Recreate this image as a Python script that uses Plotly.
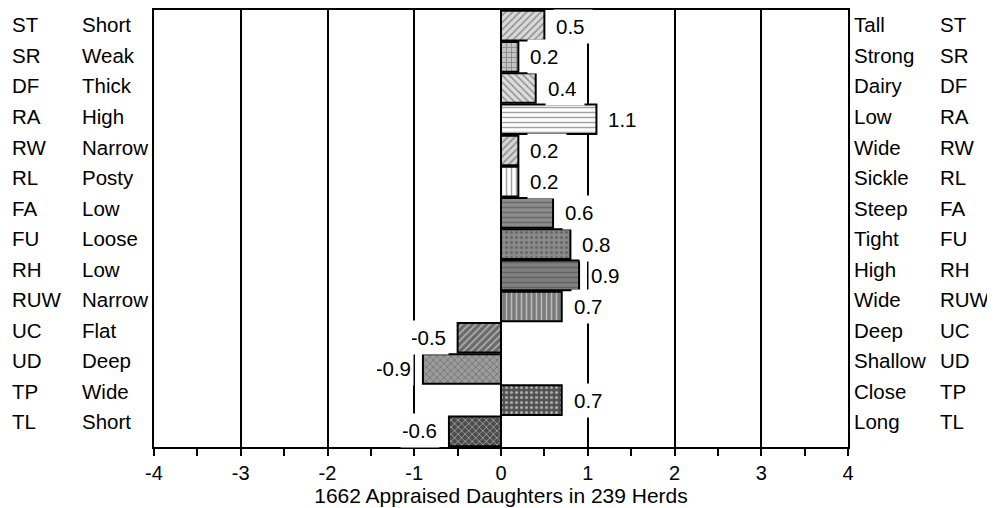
import plotly.graph_objects as go

# trait abbreviations, low-end and high-end descriptors, and mean values
traits = ["ST", "SR", "DF", "RA", "RW", "RL", "FA", "FU", "RH", "RUW", "UC", "UD", "TP", "TL"]
low_desc = ["Short", "Weak", "Thick", "High", "Narrow", "Posty", "Low", "Loose", "Low",
            "Narrow", "Flat", "Deep", "Wide", "Short"]
high_desc = ["Tall", "Strong", "Dairy", "Low", "Wide", "Sickle", "Steep", "Tight", "High",
             "Wide", "Deep", "Shallow", "Close", "Long"]
values = [0.5, 0.2, 0.4, 1.1, 0.2, 0.2, 0.6, 0.8, 0.9, 0.7, -0.5, -0.9, 0.7, -0.6]

x_ticks = [-4, -3, -2, -1, 0, 1, 2, 3, 4]
x_title = "1662 Appraised Daughters in 239 Herds"

# fill style per bar (hatch shapes approximate the original's textures)
bg_colors = ["#d9d9d9", "#c4c4c4", "#dedede", "#ffffff", "#d4d4d4", "#ffffff", "#8c8c8c",
             "#8a8a8a", "#808080", "#7a7a7a", "#6a6a6a", "#9c9c9c", "#525252", "#4c4c4c"]
fg_colors = ["#f4f4f4", "#f0f0f0", "#9a9a9a", "#8a8a8a", "#9a9a9a", "#777777", "#cccccc",
             "#dddddd", "#c0c0c0", "#c0c0c0", "#b0b0b0", "#e0e0e0", "#9a9a9a", "#8a8a8a"]
shapes = ["/", "+", "\\", "-", "/", "|", "-", ".", "-", "|", "/", "x", ".", "x"]

FONT = "Liberation Sans, Arial, sans-serif"
rows = list(range(len(traits)))

fig = go.Figure()
fig.add_trace(go.Bar(
    x=values, y=rows, orientation="h",
    marker=dict(
        color=bg_colors,
        line=dict(color="black", width=2),
        pattern=dict(shape=shapes, fgcolor=fg_colors, bgcolor=bg_colors,
                     size=5, solidity=0.3, fillmode="overlay"),
    ),
    hoverinfo="skip",
))

annotations = []
# value labels with white boxes (they cut through the gridlines like the original)
for r, v in zip(rows, values):
    pos = v >= 0
    annotations.append(dict(
        x=v, y=r, xref="x", yref="y", text=f"{v:.1f}", showarrow=False,
        xanchor="left" if pos else "right", xshift=9 if pos else -9,
        align="left" if pos else "right", width=34, height=29,
        yshift=-1 if r == 0 else (1 if r == len(rows) - 1 else 0),
        bgcolor="white", borderpad=2, font=dict(size=20.5, color="black", family=FONT),
    ))

# side text columns; in the original they are spaced a little tighter than the bars
for r in rows:
    py = 0.966 - r * 0.0699
    for txt, px in [(traits[r], -0.2075), (low_desc[r], -0.1066),
                    (high_desc[r], 1.0058), (traits[r], 1.1297)]:
        annotations.append(dict(
            x=px, y=py, xref="paper", yref="paper", text=txt, showarrow=False,
            xanchor="left", yanchor="middle",
            font=dict(size=20.5, color="black", family=FONT),
        ))

# page body adds an 8px margin, so the figure is sized/offset to compensate
fig.update_layout(
    width=987, height=500,
    margin=dict(l=146, r=147, t=0, b=61),
    paper_bgcolor="white", plot_bgcolor="white",
    bargap=0.05, showlegend=False,
    font=dict(family=FONT, color="black"),
    annotations=annotations,
    xaxis=dict(
        range=[-4, 4], tickvals=x_ticks, ticktext=[str(t) for t in x_ticks],
        showgrid=True, gridcolor="black", gridwidth=2,
        zeroline=True, zerolinecolor="black", zerolinewidth=2,
        showline=True, linecolor="black", linewidth=2, mirror=True,
        ticks="outside", ticklen=7, tickwidth=1.5, tickcolor="black",
        minor=dict(dtick=0.5, tick0=0, ticks="outside", ticklen=7, tickwidth=1.5,
                   tickcolor="black", showgrid=False),
        tickfont=dict(size=20, family=FONT),
        title=dict(text=x_title, font=dict(size=21, family=FONT), standoff=4),
    ),
    yaxis=dict(
        range=[13.5, -0.5], showticklabels=False, showgrid=False, zeroline=False,
        showline=True, linecolor="black", linewidth=2, mirror=True, ticks="",
    ),
)

fig.write_html("out.html")
